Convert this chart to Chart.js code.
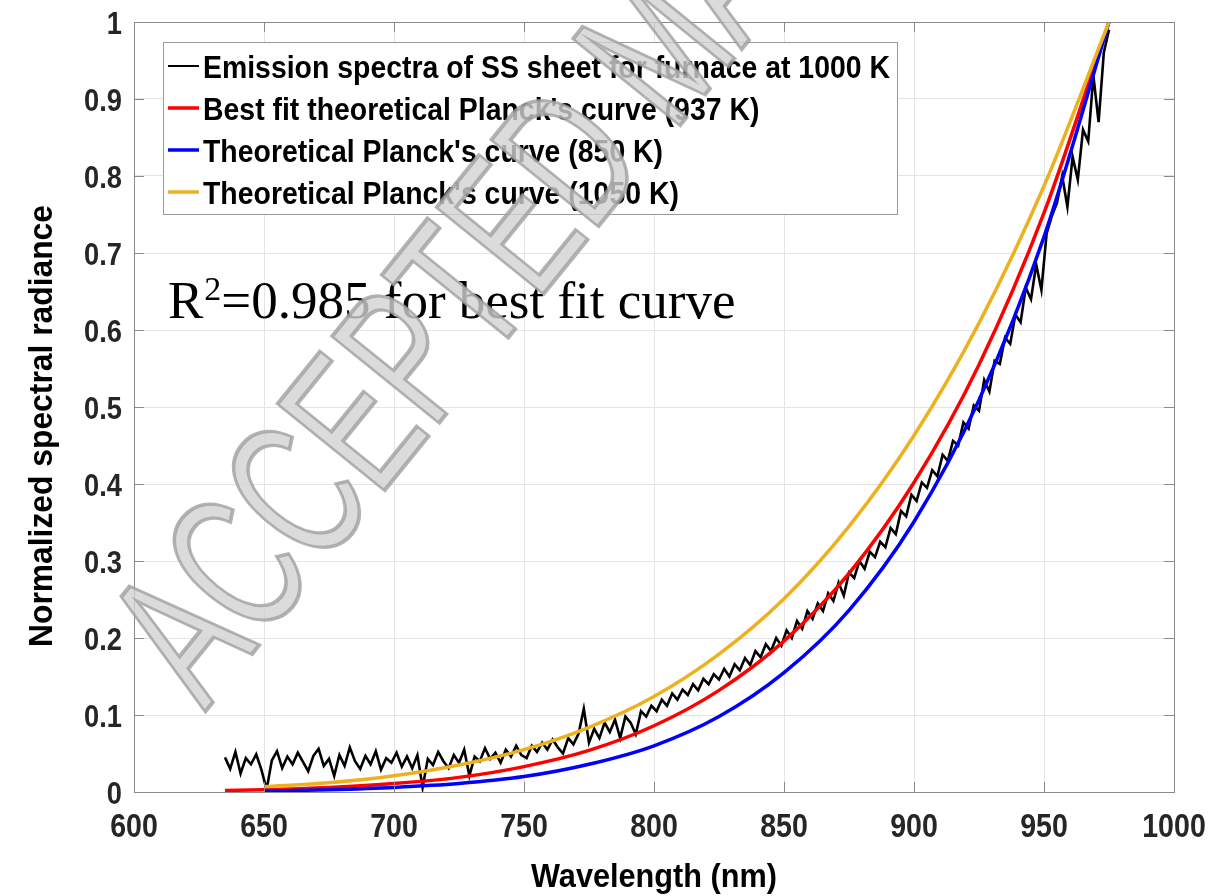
<!DOCTYPE html>
<html>
<head>
<meta charset="utf-8">
<script src="https://cdn.jsdelivr.net/npm/chart.js@4.4.1/dist/chart.umd.min.js"></script>
<style>
    html, body { margin: 0; padding: 0; background: #fff; }
    #wrap { width: 1211px; height: 896px; }
</style>
</head>
<body>
<div id="wrap"><canvas id="spectrumChart" width="1211" height="896"></canvas></div>
<script>
// measured spectrum (nm / normalized radiance)
var wavelengths = [635, 637, 639, 641, 643, 645, 647, 649, 651, 653, 655, 657, 659, 661, 663, 665, 667, 669, 671, 673,
    675, 677, 679, 681, 683, 685, 687, 689, 691, 693, 695, 697, 699, 701, 703, 705, 707, 709, 711, 713,
    715, 717, 719, 721, 723, 725, 727, 729, 731, 733, 735, 737, 739, 741, 743, 745, 747, 749, 751, 753,
    755, 757, 759, 761, 763, 765, 767, 769, 771, 773, 775, 777, 779, 781, 783, 785, 787, 789, 791, 793,
    795, 797, 799, 801, 803, 805, 807, 809, 811, 813, 815, 817, 819, 821, 823, 825, 827, 829, 831, 833,
    835, 837, 839, 841, 843, 845, 847, 849, 851, 853, 855, 857, 859, 861, 863, 865, 867, 869, 871, 873,
    875, 877, 879, 881, 883, 885, 887, 889, 891, 893, 895, 897, 899, 901, 903, 905, 907, 909, 911, 913,
    915, 917, 919, 921, 923, 925, 927, 929, 931, 933, 935, 937, 939, 941, 943, 945, 947, 949, 951, 953,
    955, 957, 959, 961, 963, 965, 967, 969, 971, 973, 975];
var measured = [0.045, 0.030, 0.052, 0.024, 0.044, 0.036, 0.049, 0.029, 0.003, 0.041,
    0.053, 0.031, 0.046, 0.036, 0.051, 0.039, 0.027, 0.047, 0.056, 0.034,
    0.043, 0.021, 0.048, 0.034, 0.058, 0.040, 0.030, 0.047, 0.036, 0.053,
    0.029, 0.044, 0.038, 0.051, 0.033, 0.046, 0.031, 0.048, 0.006, 0.043,
    0.035, 0.052, 0.040, 0.031, 0.048, 0.038, 0.055, 0.021, 0.046, 0.040,
    0.057, 0.043, 0.051, 0.038, 0.055, 0.046, 0.060, 0.048, 0.044, 0.060,
    0.052, 0.064, 0.055, 0.068, 0.058, 0.050, 0.070, 0.062, 0.076, 0.108,
    0.064, 0.082, 0.070, 0.090, 0.078, 0.094, 0.070, 0.098, 0.090, 0.075,
    0.105, 0.098, 0.112, 0.105, 0.120, 0.112, 0.128, 0.120, 0.133, 0.126,
    0.140, 0.132, 0.147, 0.140, 0.153, 0.146, 0.160, 0.150, 0.166, 0.158,
    0.174, 0.165, 0.183, 0.175, 0.192, 0.183, 0.200, 0.190, 0.210, 0.200,
    0.222, 0.212, 0.235, 0.225, 0.245, 0.235, 0.258, 0.248, 0.272, 0.255,
    0.285, 0.278, 0.300, 0.290, 0.312, 0.305, 0.325, 0.318, 0.343, 0.335,
    0.365, 0.358, 0.386, 0.378, 0.402, 0.395, 0.418, 0.410, 0.438, 0.430,
    0.456, 0.450, 0.480, 0.472, 0.502, 0.495, 0.535, 0.520, 0.560, 0.556,
    0.590, 0.582, 0.620, 0.610, 0.655, 0.640, 0.685, 0.652, 0.725, 0.748,
    0.765, 0.800, 0.760, 0.825, 0.795, 0.860, 0.845, 0.930, 0.870, 0.960,
    0.990];

// theoretical curves
var fitWl = [635, 650, 675, 700, 725, 750, 775, 800, 825, 850, 875, 900, 925, 950, 975];
var fit937 = [0.002, 0.003, 0.006, 0.011, 0.019, 0.033, 0.054, 0.086, 0.132, 0.196, 0.284, 0.402, 0.555, 0.752, 1.0];
var refWl = [650, 675, 700, 725, 750, 775, 800, 825, 850, 875, 900, 925, 950, 975];
var planck850 = [0.001, 0.003, 0.006, 0.011, 0.020, 0.036, 0.060, 0.098, 0.155, 0.236, 0.351, 0.509, 0.721, 1.0];
var planck1050 = [0.007, 0.012, 0.021, 0.035, 0.055, 0.084, 0.124, 0.179, 0.251, 0.345, 0.463, 0.609, 0.787, 1.0];

var xTicks = [600, 650, 700, 750, 800, 850, 900, 950, 1000];
var xTickLabels = ['600', '650', '700', '750', '800', '850', '900', '950', '1000'];
var yTicks = [0, 0.1, 0.2, 0.3, 0.4, 0.5, 0.6, 0.7, 0.8, 0.9, 1];
var yTickLabels = ['0', '0.1', '0.2', '0.3', '0.4', '0.5', '0.6', '0.7', '0.8', '0.9', '1'];

var seriesNames = ['Emission spectra of SS sheet for furnace at 1000 K',
    "Best fit theoretical Planck's curve (937 K)",
    "Theoretical Planck's curve (850 K)",
    "Theoretical Planck's curve (1050 K)"];

var SANS = "'Liberation Sans', Arial, sans-serif";

function pairs(xs, ys) {
    return xs.map(function (x, i) { return { x: x, y: ys[i] }; });
}

// text squeezed sideways, to get the narrow look of the original figure
function narrowText(ctx, text, x, y, o) {
    ctx.save();
    ctx.font = (o.weight || 'bold') + ' ' + o.size + 'px ' + (o.family || SANS);
    var sx = o.width ? o.width / ctx.measureText(text).width : (o.scaleX || 1);
    ctx.translate(x, y);
    if (o.rotate) ctx.rotate(o.rotate);
    ctx.scale(sx, 1);
    ctx.textAlign = o.align || 'left';
    ctx.textBaseline = 'alphabetic';
    ctx.fillStyle = o.color || '#000';
    ctx.fillText(text, 0, 0);
    ctx.restore();
    return sx;
}

var framePlugin = {
    id: 'matlabFrame',
    afterDatasetsDraw: function (chart) {
        var ctx = chart.ctx, a = chart.chartArea;
        var xs = chart.scales.x, ys = chart.scales.y;
        ctx.save();
        // box + inward ticks
        ctx.strokeStyle = '#8a8a8a';
        ctx.lineWidth = 1;
        ctx.beginPath();
        xTicks.forEach(function (v) {
            var px = Math.round(xs.getPixelForValue(v)) + 0.5;
            ctx.moveTo(px, a.bottom); ctx.lineTo(px, a.bottom - 10);
            ctx.moveTo(px, a.top); ctx.lineTo(px, a.top + 10);
        });
        yTicks.forEach(function (v) {
            var py = Math.round(ys.getPixelForValue(v)) + 0.5;
            ctx.moveTo(a.left, py); ctx.lineTo(a.left + 10, py);
            ctx.moveTo(a.right, py); ctx.lineTo(a.right - 10, py);
        });
        ctx.stroke();
        ctx.strokeRect(Math.round(a.left) + 0.5, Math.round(a.top) + 0.5,
            Math.round(a.right - a.left), Math.round(a.bottom - a.top));
        ctx.restore();

        // tick labels and axis titles
        xTicks.forEach(function (v, i) {
            narrowText(ctx, xTickLabels[i], xs.getPixelForValue(v), 837,
                { size: 34, scaleX: 0.84, align: 'center', color: '#262626' });
        });
        yTicks.forEach(function (v, i) {
            narrowText(ctx, yTickLabels[i], 122, ys.getPixelForValue(v) + 12,
                { size: 31, scaleX: 0.88, align: 'right', color: '#262626' });
        });
        narrowText(ctx, 'Wavelength (nm)', (a.left + a.right) / 2, 887,
            { size: 34, width: 246, align: 'center' });
        narrowText(ctx, 'Normalized spectral radiance', 52, 426,
            { size: 33, width: 442, align: 'center', rotate: -Math.PI / 2 });

        // legend box
        ctx.save();
        var lx = 163, ly = 42, lw = 734, lh = 172;
        ctx.fillStyle = '#fff';
        ctx.fillRect(lx, ly, lw, lh);
        ctx.strokeStyle = '#9a9a9a';
        ctx.lineWidth = 1;
        ctx.strokeRect(lx + 0.5, ly + 0.5, lw, lh);
        var sx = null;
        chart.data.datasets.forEach(function (ds, i) {
            var y = 66 + i * 42;
            ctx.strokeStyle = ds.borderColor;
            ctx.lineWidth = i === 0 ? 2 : 3.5;
            ctx.beginPath();
            ctx.moveTo(168, y); ctx.lineTo(199, y);
            ctx.stroke();
            if (sx === null) {
                sx = narrowText(ctx, ds.label, 203, y + 12, { size: 32, width: 687 });
            } else {
                narrowText(ctx, ds.label, 203, y + 12, { size: 32, scaleX: sx });
            }
        });
        ctx.restore();

        // R^2 note
        ctx.save();
        ctx.fillStyle = '#000';
        ctx.textBaseline = 'alphabetic';
        ctx.font = "53px 'Liberation Serif', 'Times New Roman', serif";
        var tx = 168;
        ctx.fillText('R', tx, 318);
        tx += ctx.measureText('R').width;
        ctx.font = "34px 'Liberation Serif', 'Times New Roman', serif";
        ctx.fillText('2', tx + 1, 300);
        tx += ctx.measureText('2').width + 1;
        ctx.font = "53px 'Liberation Serif', 'Times New Roman', serif";
        ctx.fillText('=0.985 for best fit curve', tx, 318);
        ctx.restore();
    },
    afterDraw: function (chart) {
        // journal watermark
        var ctx = chart.ctx;
        ctx.save();
        ctx.globalAlpha = 0.8;
        ctx.translate(205, 712);
        ctx.rotate(-51 * Math.PI / 180);
        ctx.scale(0.65, 1);
        ctx.font = "200px 'Liberation Sans', sans-serif";
        ctx.textBaseline = 'alphabetic';
        ctx.fillStyle = '#d2d2d2';
        ctx.strokeStyle = '#a0a0a0';
        ctx.lineWidth = 4;
        ctx.fillText('ACCEPTED MANUSCRIPT', 0, 0);
        ctx.strokeText('ACCEPTED MANUSCRIPT', 0, 0);
        ctx.restore();
    }
};

var ctx = document.getElementById('spectrumChart').getContext('2d');
var chart = new Chart(ctx, {
    type: 'line',
    data: {
        datasets: [
            {
                label: seriesNames[0],
                data: pairs(wavelengths, measured),
                borderColor: '#000000',
                borderWidth: 2.6,
                pointRadius: 0,
                tension: 0,
                order: 4
            },
            {
                label: seriesNames[1],
                data: pairs(fitWl, fit937),
                borderColor: '#ff0000',
                borderWidth: 3.5,
                pointRadius: 0,
                cubicInterpolationMode: 'monotone',
                order: 3
            },
            {
                label: seriesNames[2],
                data: pairs(refWl, planck850),
                borderColor: '#0000ff',
                borderWidth: 3.5,
                pointRadius: 0,
                cubicInterpolationMode: 'monotone',
                order: 2
            },
            {
                label: seriesNames[3],
                data: pairs(refWl, planck1050),
                borderColor: '#edb120',
                borderWidth: 3.5,
                pointRadius: 0,
                cubicInterpolationMode: 'monotone',
                order: 1
            }
        ]
    },
    options: {
        responsive: false,
        animation: false,
        devicePixelRatio: 1,
        layout: { padding: { left: 0, top: 22, right: 37, bottom: 0 } },
        plugins: { legend: { display: false }, tooltip: { enabled: false } },
        scales: {
            x: {
                type: 'linear',
                min: 600,
                max: 1000,
                afterFit: function (s) { s.height = 104; },
                afterBuildTicks: function (s) { s.ticks = xTicks.map(function (v) { return { value: v }; }); },
                grid: { color: '#e4e4e4', drawTicks: false },
                border: { display: false },
                ticks: { display: false }
            },
            y: {
                type: 'linear',
                min: 0,
                max: 1,
                afterFit: function (s) { s.width = 134; },
                afterBuildTicks: function (s) { s.ticks = yTicks.map(function (v) { return { value: v }; }); },
                grid: { color: '#e4e4e4', drawTicks: false },
                border: { display: false },
                ticks: { display: false }
            }
        }
    },
    plugins: [framePlugin]
});
</script>
</body>
</html>
